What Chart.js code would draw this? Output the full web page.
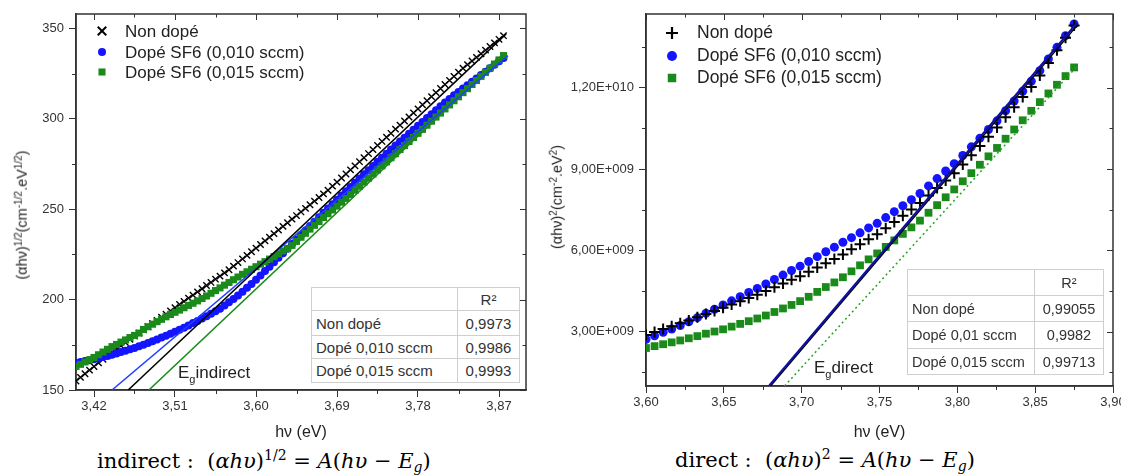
<!DOCTYPE html>
<html>
<head>
<meta charset="utf-8">
<script src="https://cdn.jsdelivr.net/npm/chart.js@4/dist/chart.umd.min.js"></script>
<style>
  body { margin:0; background:#fff; }
  #page { position:relative; width:1121px; height:475px; overflow:hidden; font-family:"Liberation Sans", Arial, sans-serif; color:#222; }
  canvas { position:absolute; top:0; }
  .txt { position:absolute; white-space:nowrap; line-height:1; }
  .txt sub { font-size:11px; vertical-align:-0.45em; line-height:0; }
  .ytitle { position:absolute; white-space:nowrap; font-size:14.5px; line-height:1; transform:translate(-50%,-50%) rotate(-90deg); }
  .ytitle sup { font-size:10px; vertical-align:0.5em; line-height:0; }
  table.r2 { position:absolute; border-collapse:collapse; table-layout:fixed; background:#fff; border:1.5px solid #8c8c8c; color:#333; }
  table.r2 td { border:1px solid #cfcfcf; padding:0 4px; white-space:nowrap; overflow:hidden; }
  table.r2 td.v { text-align:center; }
  .cap { position:absolute; font-family:"DejaVu Serif", serif; font-size:21px; white-space:nowrap; line-height:1; color:#000; }
  .cap sup { font-size:14px; vertical-align:0.55em; line-height:0; }
  .cap sub { font-size:14px; vertical-align:-0.3em; line-height:0; }
</style>
</head>
<body>
<div id="page">
  <canvas id="left" width="540" height="445" style="left:0"></canvas>
  <canvas id="right" width="561" height="445" style="left:560px"></canvas>

  <div class="ytitle" style="left:22px;top:215px">(αhν)<sup>1/2</sup>(cm<sup>-1/2</sup>.eV<sup>1/2</sup>)</div>
  <div class="ytitle" style="left:557px;top:197px">(αhν)<sup>2</sup>(cm<sup>-2</sup>.eV<sup>2</sup>)</div>

  <div class="txt" style="left:125px;top:23px;font-size:17px">Non dopé</div>
  <div class="txt" style="left:125px;top:44px;font-size:17px">Dopé SF6 (0,010 sccm)</div>
  <div class="txt" style="left:125px;top:64px;font-size:17px">Dopé SF6 (0,015 sccm)</div>

  <div class="txt" style="left:697px;top:24px;font-size:17.5px">Non dopé</div>
  <div class="txt" style="left:697px;top:47px;font-size:17.5px">Dopé SF6 (0,010 sccm)</div>
  <div class="txt" style="left:697px;top:69px;font-size:17.5px">Dopé SF6 (0,015 sccm)</div>

  <div class="txt" style="left:178px;top:364px;font-size:17px">E<sub>g</sub>indirect</div>
  <div class="txt" style="left:814px;top:359px;font-size:17px">E<sub>g</sub>direct</div>

  <table class="r2" id="tabLeft" style="left:311px;top:287px;width:208px;font-size:15px">
    <colgroup><col style="width:146px"><col style="width:62px"></colgroup>
  </table>
  <table class="r2" id="tabRight" style="left:907px;top:269px;width:196px;font-size:14.5px">
    <colgroup><col style="width:127px"><col style="width:69px"></colgroup>
  </table>

  <div class="cap" style="left:97px;top:451px">indirect :&nbsp; (<i>αhυ</i>)<sup>1/2</sup> = <i>A</i>(<i>hυ</i> − <i>E<sub>g</sub></i>)</div>
  <div class="cap" style="left:675px;top:450px">direct :&nbsp; (<i>αhυ</i>)<sup>2</sup> = <i>A</i>(<i>hυ</i> − <i>E<sub>g</sub></i>)</div>
</div>

<script>
Chart.defaults.font.family = 'Liberation Sans';

// ---------- left panel : indirect gap, (ahv)^1/2 ----------
const hvLeft = [
  3.400,3.405,3.410,3.415,3.420,3.425,3.430,3.435,3.440,3.445,
  3.450,3.455,3.460,3.465,3.470,3.475,3.480,3.485,3.490,3.495,
  3.500,3.505,3.510,3.515,3.520,3.525,3.530,3.535,3.540,3.545,
  3.550,3.555,3.560,3.565,3.570,3.575,3.580,3.585,3.590,3.595,
  3.600,3.605,3.610,3.615,3.620,3.625,3.630,3.635,3.640,3.645,
  3.650,3.655,3.660,3.665,3.670,3.675,3.680,3.685,3.690,3.695,
  3.700,3.705,3.710,3.715,3.720,3.725,3.730,3.735,3.740,3.745,
  3.750,3.755,3.760,3.765,3.770,3.775,3.780,3.785,3.790,3.795,
  3.800,3.805,3.810,3.815,3.820,3.825,3.830,3.835,3.840,3.845,
  3.850,3.855,3.860,3.865,3.870,3.875];
const nonDopeLeft = [
  155,157,159,161,163,165,167,169,171,172.8,
  174.5,176.3,178,179.8,181.5,183.3,185,186.8,188.5,190.3,
  192,193.8,195.5,197.3,199,200.8,202.5,204.3,206,207.8,
  209.5,211.3,213,214.8,216.5,218.5,220.5,222.5,224.5,226.5,
  228.5,230.5,232.5,234.5,236.5,238.5,240.5,242.5,244.5,246.5,
  248.5,250.5,252.5,254.5,256.5,258.5,260.5,262.8,265,267.3,
  269.5,271.8,274,276.3,278.5,280.8,283,285.3,287.5,289.8,
  292,294.3,296.5,298.8,301,303.3,305.5,307.8,310,312.3,
  314.5,316.8,319,321.3,323.5,325.8,328,330,332,334,
  336,338,340,342,344,346];
const sf6010Left = [
  165,165.5,166,166.5,167,167.6,168.2,168.8,169.5,170.2,
  171,171.7,172.5,173.3,174.2,175.1,176,177,178,179,
  180,181.1,182.2,183.3,184.5,185.7,187,188.2,189.5,190.8,
  192.2,193.6,195,196.7,198.5,200.4,202.3,204.4,206.5,208.7,
  211,213.4,215.8,218.2,220.7,223.2,225.7,228.2,230.7,233.2,
  235.7,238.2,240.7,243.1,245.6,248,250.4,252.8,255.2,257.6,
  260,262.3,264.7,267,269.3,271.6,273.9,276.2,278.5,280.7,
  283,285.2,287.4,289.6,291.8,294,296.2,298.3,300.5,302.6,
  304.8,306.9,309,311,313,314.9,316.8,318.6,320.5,322.3,
  324.2,326.1,328,329.9,331.8,333.7];
const sf6015Left = [
  163,164.2,165.5,166.7,168,169.5,171,172.5,174,175.2,
  176.5,177.7,179,180.2,181.5,183.5,185,186.4,187.8,189.1,
  190.5,191.8,193,194.2,195.5,196.8,198,199.3,200.6,202,
  203.5,205,206.5,208,209.5,211,212.5,214,215.4,216.8,
  218.2,219.6,221,222.4,223.8,225.3,226.9,228.2,230,232.2,
  234.5,236.7,239,241.1,243.2,245.4,247.5,249.6,251.7,253.9,
  256,258.2,260.5,262.7,265,267.2,269.5,271.7,274,276.2,
  278.5,280.7,283,285.2,287.5,289.7,292,294.2,296.5,298.7,
  301,303.2,305.5,307.7,310,312.2,314.5,316.7,319,321.2,
  323.5,325.7,328,330.3,332.6,335];
// linear fits (two end points each)
const fitNonDopeLeftX = [3.458, 3.878], fitNonDopeLeftY = [150, 347];
const fit010LeftX = [3.440, 3.880], fit010LeftY = [150, 335];
const fit015LeftX = [3.481, 3.878], fit015LeftY = [150, 336.5];

const xTicksLeft = [3.42, 3.51, 3.60, 3.69, 3.78, 3.87];
const xTickLabelsLeft = ['3,42', '3,51', '3,60', '3,69', '3,78', '3,87'];
const xMinorLeft = [3.465, 3.555, 3.645, 3.735, 3.825];
const yTicksLeft = [150, 200, 250, 300, 350];
const yTickLabelsLeft = ['150', '200', '250', '300', '350'];
const yMinorLeft = [175, 225, 275, 325];

// ---------- right panel : direct gap, (ahv)^2 in 1E+009 ----------
const hvRight = [
  3.6000,3.6055,3.6110,3.6165,3.6220,3.6275,3.6330,3.6385,3.6440,3.6495,
  3.6550,3.6605,3.6660,3.6715,3.6770,3.6825,3.6880,3.6935,3.6990,3.7045,
  3.7100,3.7155,3.7210,3.7265,3.7320,3.7375,3.7430,3.7485,3.7540,3.7595,
  3.7650,3.7705,3.7760,3.7815,3.7870,3.7925,3.7980,3.8035,3.8090,3.8145,
  3.8200,3.8255,3.8310,3.8365,3.8420,3.8475,3.8530,3.8585,3.8640,3.8695,
  3.8750];
const nonDopeRight = [
  2.88,2.99,3.10,3.20,3.31,3.42,3.54,3.66,3.77,3.89,
  4.01,4.13,4.25,4.37,4.50,4.64,4.78,4.92,5.05,5.21,
  5.37,5.53,5.68,5.85,6.04,6.23,6.41,6.60,6.82,7.05,
  7.28,7.51,7.75,8.03,8.30,8.58,8.85,9.17,9.51,9.85,
  10.19,10.53,10.91,11.28,11.66,12.03,12.45,12.91,13.38,13.84,
  14.30];
const sf6010Right = [
  2.72,2.85,2.98,3.10,3.23,3.37,3.52,3.68,3.83,3.99,
  4.14,4.29,4.45,4.60,4.76,4.93,5.09,5.26,5.42,5.59,
  5.77,5.95,6.12,6.30,6.47,6.65,6.83,7.00,7.21,7.43,
  7.65,7.87,8.10,8.38,8.65,8.93,9.20,9.50,9.82,10.14,
  10.46,10.78,11.15,11.51,11.87,12.24,12.63,13.06,13.49,13.92,
  14.35];
const sf6015Right = [
  2.40,2.47,2.54,2.61,2.68,2.76,2.84,2.93,3.01,3.09,
  3.19,3.29,3.39,3.49,3.60,3.73,3.86,3.99,4.13,4.29,
  4.47,4.65,4.82,5.01,5.23,5.45,5.67,5.89,6.13,6.37,
  6.61,6.85,7.10,7.39,7.67,7.96,8.25,8.55,8.85,9.16,
  9.47,9.78,10.12,10.46,10.80,11.15,11.47,11.79,12.11,12.43,
  12.75];
const fitNonDopeRightX = [3.680, 3.877], fitNonDopeRightY = [1.0, 14.3];
const fit010RightX = [3.679, 3.877], fit010RightY = [1.0, 14.4];
const fit015RightX = [3.689, 3.877], fit015RightY = [1.0, 12.8];

const xTicksRight = [3.60, 3.65, 3.70, 3.75, 3.80, 3.85, 3.90];
const xTickLabelsRight = ['3,60', '3,65', '3,70', '3,75', '3,80', '3,85', '3,90'];
const xMinorRight = [3.625, 3.675, 3.725, 3.775, 3.825, 3.875];
const yTicksRight = [3, 6, 9, 12];
const yTickLabelsRight = ['3,00E+009', '6,00E+009', '9,00E+009', '1,20E+010'];
const yMinorRight = [1.5, 4.5, 7.5, 10.5, 13.5];

// R² tables
const r2Names = ['Non dopé', 'Dopé 0,010 sccm', 'Dopé 0,015 sccm'];
const r2NamesRight = ['Non dopé', 'Dopé 0,01 sccm', 'Dopé 0,015 sccm'];
const r2Left = ['0,9973', '0,9986', '0,9993'];
const r2Right = ['0,99055', '0,9982', '0,99713'];

function pts(xs, ys) {
  return xs.map((x, i) => ({x: x, y: ys[i]}));
}

function fillTable(id, names, vals, heights) {
  const t = document.getElementById(id);
  const rows = [['', 'R²']].concat(names.map((n, i) => [n, vals[i]]));
  rows.forEach((r, i) => {
    const tr = document.createElement('tr');
    tr.style.height = heights[i] + 'px';
    const a = document.createElement('td');
    a.textContent = r[0];
    const b = document.createElement('td');
    b.className = 'v';
    b.textContent = r[1];
    tr.appendChild(a);
    tr.appendChild(b);
    t.appendChild(tr);
  });
}
fillTable('tabLeft', r2Names, r2Left, [23, 25, 23, 24]);
fillTable('tabRight', r2NamesRight, r2Right, [26, 26, 27, 26]);

function drawMark(ctx, m) {
  ctx.save();
  ctx.strokeStyle = m.color;
  ctx.fillStyle = m.color;
  ctx.lineWidth = m.lw || 1.5;
  ctx.beginPath();
  if (m.style === 'crossRot') {
    const d = m.r * Math.SQRT1_2;
    ctx.moveTo(m.x - d, m.y - d); ctx.lineTo(m.x + d, m.y + d);
    ctx.moveTo(m.x - d, m.y + d); ctx.lineTo(m.x + d, m.y - d);
    ctx.stroke();
  } else if (m.style === 'cross') {
    ctx.moveTo(m.x - m.r, m.y); ctx.lineTo(m.x + m.r, m.y);
    ctx.moveTo(m.x, m.y - m.r); ctx.lineTo(m.x, m.y + m.r);
    ctx.stroke();
  } else if (m.style === 'circle') {
    ctx.arc(m.x, m.y, m.r, 0, Math.PI * 2);
    ctx.fill();
  } else {
    const s = m.r * Math.SQRT1_2;
    ctx.fillRect(m.x - s, m.y - s, 2 * s, 2 * s);
  }
  ctx.restore();
}

// frame, mirrored inner ticks, minor ticks and legend symbols
const frameTicks = {
  id: 'frameTicks',
  beforeDatasetsDraw(chart, args, o) {
    const ctx = chart.ctx, a = chart.chartArea;
    const x = chart.scales.x, y = chart.scales.y;
    ctx.save();
    ctx.strokeStyle = '#333';
    ctx.lineWidth = 1;
    ctx.beginPath();
    o.xMajor.forEach(v => {
      const p = Math.round(x.getPixelForValue(v)) + 0.5;
      ctx.moveTo(p, a.top); ctx.lineTo(p, a.top + 6);
    });
    o.xMinor.forEach(v => {
      const p = Math.round(x.getPixelForValue(v)) + 0.5;
      ctx.moveTo(p, a.top); ctx.lineTo(p, a.top + 3.5);
      ctx.moveTo(p, a.bottom); ctx.lineTo(p, a.bottom + 4);
    });
    o.yMajor.forEach(v => {
      const p = Math.round(y.getPixelForValue(v)) + 0.5;
      ctx.moveTo(a.right, p); ctx.lineTo(a.right - 6, p);
    });
    o.yMinor.forEach(v => {
      const p = Math.round(y.getPixelForValue(v)) + 0.5;
      ctx.moveTo(a.right, p); ctx.lineTo(a.right - 3.5, p);
      ctx.moveTo(a.left, p); ctx.lineTo(a.left - 4, p);
    });
    ctx.stroke();
    ctx.lineWidth = 1.5;
    ctx.strokeRect(a.left, a.top, a.right - a.left, a.bottom - a.top);
    ctx.restore();
  },
  afterDatasetsDraw(chart, args, o) {
    o.legend.forEach(m => drawMark(chart.ctx, m));
  }
};

function axes(xmin, xmax, ymin, ymax, xt, xl, yt, yl, yWidth, xHeight) {
  const tickFont = {family: 'Liberation Sans', size: 13};
  return {
    x: {
      type: 'linear', min: xmin, max: xmax,
      afterBuildTicks: s => { s.ticks = xt.map(v => ({value: v})); },
      afterFit: s => { s.height = xHeight; s.paddingLeft = 0; s.paddingRight = 0; },
      ticks: { callback: (v, i) => xl[i], autoSkip: false, maxRotation: 0, padding: 2, color: '#333', font: tickFont },
      grid: { display: true, drawOnChartArea: false, drawTicks: true, tickLength: 7, color: '#333' },
      border: { display: true, color: '#333', width: 1.5 },
      title: { display: true, text: 'hν (eV)', color: '#222', font: {family: 'Liberation Sans', size: 16}, padding: {top: 0, bottom: 3} }
    },
    y: {
      type: 'linear', min: ymin, max: ymax,
      afterBuildTicks: s => { s.ticks = yt.map(v => ({value: v})); },
      afterFit: s => { s.width = yWidth; s.paddingTop = 0; s.paddingBottom = 0; },
      ticks: { callback: (v, i) => yl[i], autoSkip: false, padding: 5, color: '#333', font: tickFont },
      grid: { display: true, drawOnChartArea: false, drawTicks: true, tickLength: 7, color: '#333' },
      border: { display: true, color: '#333', width: 1.5 }
    }
  };
}

function marks(label, data, style, r, color, lw, order) {
  return { label: label, data: data, pointStyle: style, pointRadius: r, pointHoverRadius: r,
    pointBorderColor: color, pointBackgroundColor: color, pointBorderWidth: lw,
    borderColor: color, backgroundColor: color, showLine: false, order: order };
}
function fit(data, color, width, dash) {
  return { data: data, showLine: true, pointRadius: 0, borderColor: color, borderWidth: width,
    borderDash: dash || [], fill: false, order: 0 };
}

const black = '#000000', blue = '#1414ff', green = '#1a8a1a';

new Chart(document.getElementById('left'), {
  type: 'scatter',
  data: {
    datasets: [
      marks('Non dopé', pts(hvLeft, nonDopeLeft), 'crossRot', 4.5, black, 1.4, 3),
      marks('Dopé SF6 (0,010 sccm)', pts(hvLeft, sf6010Left), 'circle', 4, blue, 0, 2),
      marks('Dopé SF6 (0,015 sccm)', pts(hvLeft, sf6015Left), 'rect', 5, green, 0, 1),
      fit(pts(fitNonDopeLeftX, fitNonDopeLeftY), black, 1.5),
      fit(pts(fit010LeftX, fit010LeftY), '#2040ff', 1.5),
      fit(pts(fit015LeftX, fit015LeftY), green, 1.5)
    ]
  },
  options: {
    responsive: false, animation: false, devicePixelRatio: 1, events: [],
    layout: { padding: {left: 0, right: 14, top: 14, bottom: 0} },
    scales: axes(3.40, 3.90, 150, 358, xTicksLeft, xTickLabelsLeft, yTicksLeft, yTickLabelsLeft, 76, 55),
    plugins: {
      legend: { display: false }, tooltip: { enabled: false },
      frameTicks: {
        xMajor: xTicksLeft, xMinor: xMinorLeft, yMajor: yTicksLeft, yMinor: yMinorLeft,
        legend: [
          {x: 102, y: 31, style: 'crossRot', r: 6, color: black, lw: 2},
          {x: 102, y: 52, style: 'circle', r: 4, color: blue},
          {x: 102, y: 72, style: 'rect', r: 5, color: green}
        ]
      }
    }
  },
  plugins: [frameTicks]
});

new Chart(document.getElementById('right'), {
  type: 'scatter',
  data: {
    datasets: [
      marks('Non dopé', pts(hvRight, nonDopeRight), 'cross', 5.5, black, 2, 2),
      marks('Dopé SF6 (0,010 sccm)', pts(hvRight, sf6010Right), 'circle', 4.5, blue, 0, 3),
      marks('Dopé SF6 (0,015 sccm)', pts(hvRight, sf6015Right), 'rect', 5.5, green, 0, 1),
      fit(pts(fit010RightX, fit010RightY), '#1010a0', 2.2),
      fit(pts(fitNonDopeRightX, fitNonDopeRightY), black, 1.5),
      fit(pts(fit015RightX, fit015RightY), '#2aa02a', 1.5, [2, 3])
    ]
  },
  options: {
    responsive: false, animation: false, devicePixelRatio: 1, events: [],
    layout: { padding: {left: 0, right: 8, top: 14, bottom: 0} },
    scales: axes(3.60, 3.90, 1.0, 14.72, xTicksRight, xTickLabelsRight, yTicksRight, yTickLabelsRight, 86, 59),
    plugins: {
      legend: { display: false }, tooltip: { enabled: false },
      frameTicks: {
        xMajor: xTicksRight, xMinor: xMinorRight, yMajor: yTicksRight, yMinor: yMinorRight,
        legend: [
          {x: 112, y: 33, style: 'cross', r: 6, color: black, lw: 2.2},
          {x: 112, y: 56, style: 'circle', r: 5, color: blue},
          {x: 112, y: 78, style: 'rect', r: 6, color: green}
        ]
      }
    }
  },
  plugins: [frameTicks]
});
</script>
</body>
</html>
